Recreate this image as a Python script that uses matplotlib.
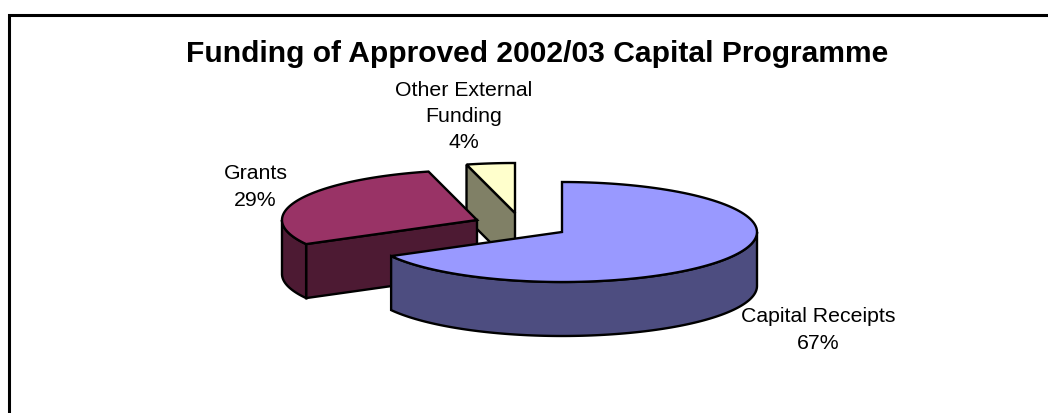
import numpy as np
import matplotlib
matplotlib.use('Agg')
import matplotlib.pyplot as plt
from matplotlib.patches import Polygon

plt.rcParams['font.family'] = ['Liberation Sans', 'DejaVu Sans']

labels = ['Capital Receipts', 'Grants', 'Other External\nFunding']
shares = [67, 29, 4]
top_colors = ['#9999ff', '#993366', '#ffffcc']
side_colors = ['#4d4d80', '#4d1a33', '#808066']

# apex of each exploded slice, in pixels
centers = [(562, 232), (477, 220), (515, 213)]
label_pos = [(818, 330), (255.5, 187), (464, 116.5)]
rx, ry, depth = 195, 50, 54
lw = 1.7


def rim(cx, cy, a0, a1, n=120):
    t = np.radians(np.linspace(a0, a1, n))
    return np.column_stack([cx + rx * np.cos(t), cy - ry * np.sin(t)])


def add_poly(ax, pts, color, zorder):
    ax.add_patch(Polygon(pts, closed=True, fc=color, ec='black', lw=lw, joinstyle='miter', zorder=zorder))


def draw_slice(ax, center, a0, a1, top, side, zorder):
    cx, cy = center
    drop = np.array([0, depth])
    apex = np.array([[cx, cy]])

    # flat cut faces, only where they turn towards the viewer
    if np.cos(np.radians(a1)) < -1e-6:
        p = rim(cx, cy, a1, a1, 1)
        add_poly(ax, np.vstack([apex, p, p + drop, apex + drop]), side, zorder)
    if np.cos(np.radians(a0)) > 1e-6:
        p = rim(cx, cy, a0, a0, 1)
        add_poly(ax, np.vstack([apex, p, p + drop, apex + drop]), side, zorder)

    # curved wall on the front half of the ellipse
    lo, hi = max(a0, 180), min(a1, 360)
    if lo < hi:
        outer = rim(cx, cy, lo, hi)
        add_poly(ax, np.vstack([outer, outer[::-1] + drop]), side, zorder)

    add_poly(ax, np.vstack([apex, rim(cx, cy, a0, a1)]), top, zorder + 0.5)


fig = plt.figure(figsize=(10.48, 4.13), dpi=100)
ax = fig.add_axes([0, 0, 1, 1])
ax.set_xlim(0, 1048)
ax.set_ylim(413, 0)
ax.axis('off')

# chart border, cut off on the right and at the bottom
ax.plot([8.5, 8.5, 1048], [413, 14.8, 14.8], color='black', lw=2.2, solid_joinstyle='miter')

ax.text(537.5, 54, 'Funding of Approved 2002/03 Capital Programme', ha='center', va='center',
        fontsize=21.6, fontweight='bold')

# slices run clockwise from twelve o'clock, stored here as (a0, a1) counter-clockwise
total = sum(shares)
end = 450.0
spans = []
for s in shares:
    sweep = 360.0 * s / total
    spans.append((end - sweep, end))
    end -= sweep

# back to front so the big slice overlaps the others
for i in [2, 1, 0]:
    a0, a1 = spans[i]
    draw_slice(ax, centers[i], a0, a1, top_colors[i], side_colors[i], 5 - i)

for i in range(3):
    ax.text(label_pos[i][0], label_pos[i][1], '%s\n%d%%' % (labels[i], shares[i]), ha='center', va='center',
            fontsize=15.3, linespacing=1.47, zorder=10)

fig.savefig('out.png', dpi=100)
